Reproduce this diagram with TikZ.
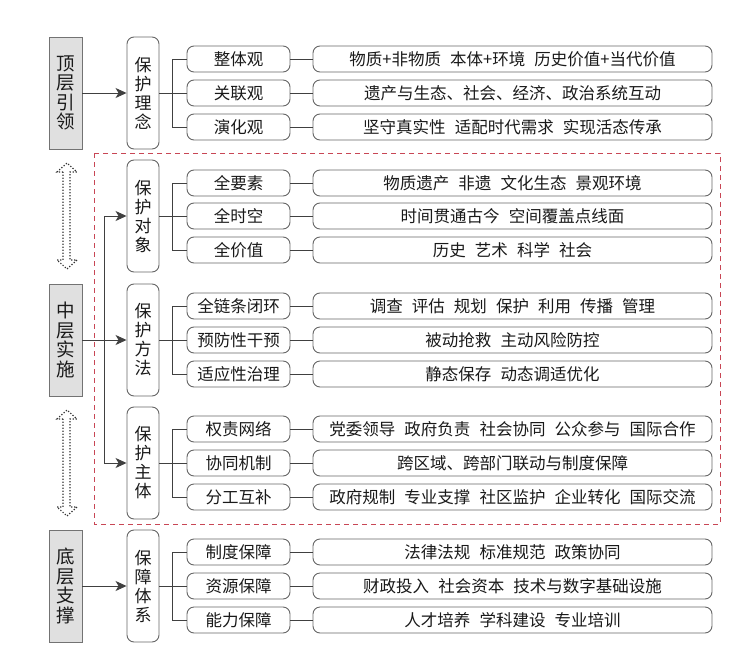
\documentclass[tikz,border=0pt]{standalone}
\usepackage{fontspec}
\setmainfont{Noto Sans CJK SC}
\usetikzlibrary{arrows.meta}
\definecolor{redline}{RGB}{200,70,85}
\newcommand{\kong}{\hspace{0.55em}}

\begin{document}
\begin{tikzpicture}[x=1pt, y=-1pt, >={Stealth[length=11pt,width=10pt,inset=3pt]},
  line/.style={draw=black!75, line width=0.9pt},
  layer/.style={draw=black!55, fill=black!12, line width=0.9pt, inner sep=0pt,
    minimum width=33pt, minimum height=112pt, align=center, text=black!90,
    font=\fontsize{18.5}{19.5}\selectfont},
  idea/.style={draw=black!60, rounded corners=7pt, line width=0.9pt, inner sep=0pt,
    minimum width=32pt, minimum height=112pt, align=center, text=black!90,
    font=\fontsize{17}{19}\selectfont},
  cat/.style={draw=black!60, rounded corners=7pt, line width=0.9pt, inner sep=0pt,
    minimum width=103pt, minimum height=26pt, text=black!90,
    font=\fontsize{16.5}{18}\selectfont},
  detail/.style={draw=black!60, rounded corners=7pt, line width=0.9pt, inner sep=0pt,
    minimum width=399pt, minimum height=26pt, text=black!90,
    font=\fontsize{16.5}{18}\selectfont},
  dotline/.style={draw=black!80, line width=1.2pt, dash pattern=on 1.2pt off 1.8pt}]
  \useasboundingbox (0,0) rectangle (750,664);

  % 中层虚线框
  \draw[redline, line width=0.9pt, dash pattern=on 5pt off 4pt] (94,153) rectangle (720,524);

  % 左侧层级
  \node[layer] (top) at (65.5,93) {顶\\层\\引\\领};
  \node[layer] (mid) at (65.5,340) {中\\层\\实\\施};
  \node[layer] (bot) at (65.5,586) {底\\层\\支\\撑};

  % 层级之间的虚线双箭头
  \draw[dotline] (63,172) -- (57,172) -- (67,163) -- (77,172) -- (70,172) -- (70,260)
    -- (77,260) -- (67,269) -- (57,260) -- (63,260) -- cycle;
  \draw[dotline] (63,419) -- (57,419) -- (67,410) -- (77,419) -- (70,419) -- (70,507)
    -- (77,507) -- (67,516) -- (57,507) -- (63,507) -- cycle;

  % 顶层：保护理念
  \node[idea] (idea) at (143,93) {保\\护\\理\\念};
  \node[cat] (c11) at (238.5,59) {整体观};
  \node[cat] (c12) at (238.5,93) {关联观};
  \node[cat] (c13) at (238.5,127) {演化观};
  \node[detail] (d11) at (512.5,59) {物质+非物质\kong 本体+环境\kong 历史价值+当代价值};
  \node[detail] (d12) at (512.5,93) {遗产与生态、社会、经济、政治系统互动};
  \node[detail] (d13) at (512.5,127) {坚守真实性\kong 适配时代需求\kong 实现活态传承};

  % 中层：保护对象
  \node[idea] (obj) at (143,216) {保\\护\\对\\象};
  \node[cat] (c21) at (238.5,183) {全要素};
  \node[cat] (c22) at (238.5,216) {全时空};
  \node[cat] (c23) at (238.5,250) {全价值};
  \node[detail] (d21) at (512.5,183) {物质遗产\kong 非遗\kong 文化生态\kong 景观环境};
  \node[detail] (d22) at (512.5,216) {时间贯通古今\kong 空间覆盖点线面};
  \node[detail] (d23) at (512.5,250) {历史\kong 艺术\kong 科学\kong 社会};

  % 中层：保护方法
  \node[idea] (way) at (143,340) {保\\护\\方\\法};
  \node[cat] (c31) at (238.5,306) {全链条闭环};
  \node[cat] (c32) at (238.5,340) {预防性干预};
  \node[cat] (c33) at (238.5,374) {适应性治理};
  \node[detail] (d31) at (512.5,306) {调查\kong 评估\kong 规划\kong 保护\kong 利用\kong 传播\kong 管理};
  \node[detail] (d32) at (512.5,340) {被动抢救\kong 主动风险防控};
  \node[detail] (d33) at (512.5,374) {静态保存\kong 动态调适优化};

  % 中层：保护主体
  \node[idea] (subj) at (143,463) {保\\护\\主\\体};
  \node[cat] (c41) at (238.5,429) {权责网络};
  \node[cat] (c42) at (238.5,463) {协同机制};
  \node[cat] (c43) at (238.5,497) {分工互补};
  \node[detail] (d41) at (512.5,429) {党委领导\kong 政府负责\kong 社会协同\kong 公众参与\kong 国际合作};
  \node[detail] (d42) at (512.5,463) {跨区域、跨部门联动与制度保障};
  \node[detail] (d43) at (512.5,497) {政府规制\kong 专业支撑\kong 社区监护\kong 企业转化\kong 国际交流};

  % 底层：保障体系
  \node[idea] (sys) at (143,586) {保\\障\\体\\系};
  \node[cat] (c51) at (238.5,552) {制度保障};
  \node[cat] (c52) at (238.5,586) {资源保障};
  \node[cat] (c53) at (238.5,620) {能力保障};
  \node[detail] (d51) at (512.5,552) {法律法规\kong 标准规范\kong 政策协同};
  \node[detail] (d52) at (512.5,586) {财政投入\kong 社会资本\kong 技术与数字基础设施};
  \node[detail] (d53) at (512.5,620) {人才培养\kong 学科建设\kong 专业培训};

  % 层级箭头
  \draw[line, ->] (top.east) -- (idea.west);
  \draw[line, ->] (mid.east) -- (way.west);
  \draw[line, ->] (bot.east) -- (sys.west);
  \coordinate (spine) at (104,340);
  \draw[line, ->] (spine) |- (obj.west);
  \draw[line, ->] (spine) |- (subj.west);

  % 树形连线
  \draw[line] (idea.east) -- (c12.west);
  \draw[line] (c11.west) -- ++(-14,0) |- (c13.west);
  \draw[line] (obj.east) -- (c22.west);
  \draw[line] (c21.west) -- ++(-14,0) |- (c23.west);
  \draw[line] (way.east) -- (c32.west);
  \draw[line] (c31.west) -- ++(-14,0) |- (c33.west);
  \draw[line] (subj.east) -- (c42.west);
  \draw[line] (c41.west) -- ++(-14,0) |- (c43.west);
  \draw[line] (sys.east) -- (c52.west);
  \draw[line] (c51.west) -- ++(-14,0) |- (c53.west);

  % 分类与说明
  \draw[line] (c11.east) -- (d11.west);
  \draw[line] (c12.east) -- (d12.west);
  \draw[line] (c13.east) -- (d13.west);
  \draw[line] (c21.east) -- (d21.west);
  \draw[line] (c22.east) -- (d22.west);
  \draw[line] (c23.east) -- (d23.west);
  \draw[line] (c31.east) -- (d31.west);
  \draw[line] (c32.east) -- (d32.west);
  \draw[line] (c33.east) -- (d33.west);
  \draw[line] (c41.east) -- (d41.west);
  \draw[line] (c42.east) -- (d42.west);
  \draw[line] (c43.east) -- (d43.west);
  \draw[line] (c51.east) -- (d51.west);
  \draw[line] (c52.east) -- (d52.west);
  \draw[line] (c53.east) -- (d53.west);
\end{tikzpicture}
\end{document}
